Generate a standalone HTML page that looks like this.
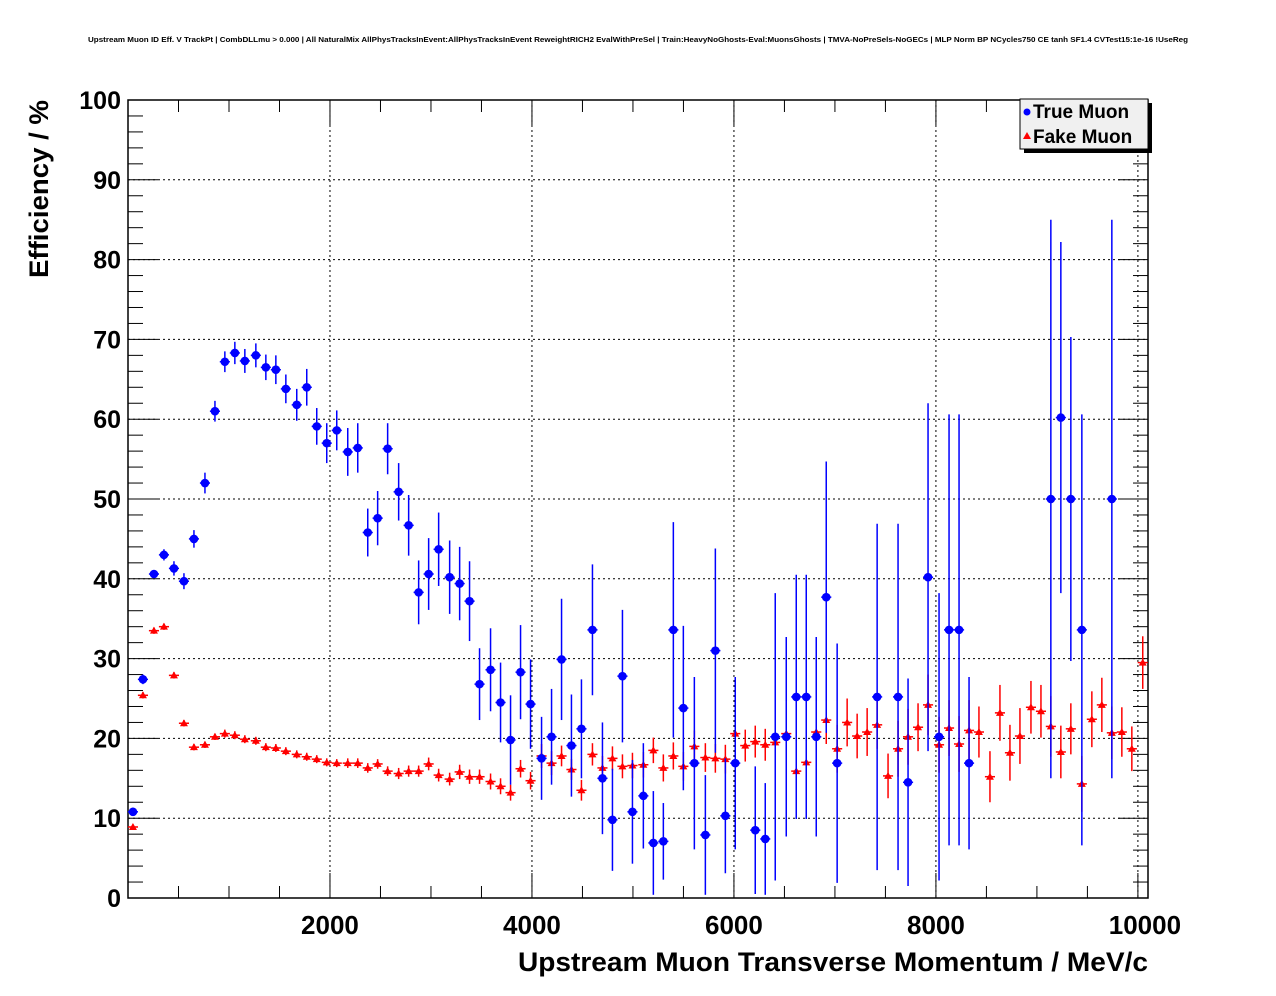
<!DOCTYPE html>
<html><head><meta charset="utf-8"><style>
html,body{margin:0;padding:0;background:#fff;}
svg{display:block;font-family:"Liberation Sans",sans-serif;}
</style></head><body>
<svg id="chart" width="1276" height="996" viewBox="0 0 1276 996" xmlns="http://www.w3.org/2000/svg">
<rect x="0" y="0" width="1276" height="996" fill="#fff"/>
<text x="88" y="42" font-size="7.5" font-weight="bold" textLength="1100" lengthAdjust="spacingAndGlyphs">Upstream Muon ID Eff. V TrackPt | CombDLLmu &gt; 0.000 | All NaturalMix AllPhysTracksInEvent:AllPhysTracksInEvent ReweightRICH2 EvalWithPreSel | Train:HeavyNoGhosts-Eval:MuonsGhosts | TMVA-NoPreSels-NoGECs | MLP Norm BP NCycles750 CE tanh SF1.4 CVTest15:1e-16 !UseReg</text>
<g id="grid"></g>
<g id="axes"></g>
<g id="series-fake"></g>
<g id="series-true"></g>
<text transform="translate(48,100) rotate(-90)" font-size="27" font-weight="bold" text-anchor="end" textLength="178" lengthAdjust="spacingAndGlyphs">Efficiency / %</text>
<text x="518" y="971" font-size="27" font-weight="bold" textLength="630" lengthAdjust="spacingAndGlyphs">Upstream Muon Transverse Momentum / MeV/c</text>
<g>
<rect x="1024" y="103" width="128" height="50" fill="#000"/>
<rect x="1020" y="99" width="128" height="50" fill="#f0f0f0" stroke="#000" stroke-width="1"/>
<g>
<circle cx="1027" cy="112" r="3.5" fill="#0000ff"/>
<text x="1033" y="118" font-size="19" font-weight="bold">True Muon</text>
</g>
<g>
<polygon points="1023,139 1031,139 1027,132" fill="#ff0000"/>
<text x="1033" y="143" font-size="19" font-weight="bold">Fake Muon</text>
</g>
</g>
</svg>
<script>
const xTicks = [2000, 4000, 6000, 8000, 10000];
const yTicks = [0, 10, 20, 30, 40, 50, 60, 70, 80, 90, 100];
const fakeX = [49,148,257,356,455,554,653,762,861,959,1058,1157,1266,1365,1464,1563,1671,1770,1869,1968,2067,2176,2275,2374,2472,2571,2680,2779,2878,2977,3076,3185,3284,3382,3481,3590,3689,3788,3887,3986,4095,4194,4293,4391,4490,4599,4698,4797,4896,4995,5103,5202,5301,5400,5499,5608,5717,5816,5915,6013,6112,6211,6310,6409,6518,6617,6716,6815,6914,7022,7121,7220,7319,7418,7526,7625,7724,7823,7922,8031,8130,8229,8328,8426,8535,8634,8733,8832,8941,9040,9138,9237,9336,9445,9544,9643,9742,9841,9940,10048];
const fakeY = [8.9,25.4,33.5,34.0,27.9,21.9,18.9,19.2,20.2,20.6,20.4,19.9,19.7,18.9,18.8,18.4,18.0,17.7,17.4,17.0,16.9,16.9,16.9,16.3,16.8,15.9,15.6,15.9,15.9,16.8,15.4,14.9,15.8,15.2,15.2,14.6,14.0,13.2,16.2,14.7,17.8,16.9,17.8,16.1,13.5,18.0,16.3,17.5,16.5,16.6,16.7,18.5,16.3,17.8,16.5,19.0,17.6,17.5,17.4,20.6,19.1,19.6,19.2,19.5,20.6,15.9,17.0,20.8,22.3,18.7,22.0,20.3,20.8,21.7,15.3,18.7,20.2,21.4,24.2,19.2,21.3,19.3,21.0,20.8,15.2,23.2,18.2,20.3,23.9,23.4,21.5,18.3,21.2,14.3,22.4,24.2,20.7,20.8,18.7,29.5];
const fakeErr = [.3,.4,.4,.4,.4,.4,.4,.4,.4,.5,.5,.5,.5,.5,.5,.5,.5,.5,.5,.5,.5,.6,.6,.6,.6,.6,.7,.7,.7,.8,.8,.8,.9,.9,.9,1.0,1.0,1.0,1.1,1.1,1.5,1.5,1.3,1.3,1.3,1.4,1.5,1.5,1.5,1.6,1.6,1.6,1.7,1.7,1.8,2.0,1.8,1.8,1.8,2.1,2.0,2.0,2.0,2.2,2.5,2.3,2.3,2.5,3,3,3,2.8,3,3,2.8,3.5,3.5,3,3.8,3.5,3.5,3.5,3.8,3.2,3.2,3.5,3.5,3.5,3.3,3.3,3.8,3.3,3.2,3.5,3.5,3.4,3.3,3.1,2.8,3.3];
const trueX = [49,148,257,356,455,554,653,762,861,959,1058,1157,1266,1365,1464,1563,1671,1770,1869,1968,2067,2176,2275,2374,2472,2571,2680,2779,2878,2977,3076,3185,3284,3382,3481,3590,3689,3788,3887,3986,4095,4194,4293,4391,4490,4599,4698,4797,4896,4995,5103,5202,5301,5400,5499,5608,5717,5816,5915,6013,6211,6310,6409,6518,6617,6716,6815,6914,7022,7418,7625,7724,7922,8031,8130,8229,8328,9138,9237,9336,9445,9742];
const trueY = [10.8,27.4,40.6,43.0,41.3,39.7,45.0,52.0,61.0,67.2,68.3,67.3,68.0,66.5,66.2,63.8,61.8,64.0,59.1,57.0,58.6,55.9,56.4,45.8,47.6,56.3,50.9,46.7,38.3,40.6,43.7,40.2,39.4,37.2,26.8,28.6,24.5,19.8,28.3,24.3,17.5,20.2,29.9,19.1,21.2,33.6,15.0,9.8,27.8,10.8,12.8,6.9,7.1,33.6,23.8,16.9,7.9,31.0,10.3,16.9,8.5,7.4,20.2,20.2,25.2,25.2,20.2,37.7,16.9,25.2,25.2,14.5,40.2,20.2,33.6,33.6,16.9,50.0,60.2,50.0,33.6,50.0];
const trueErr = [0.5,0.6,0.5,0.7,0.9,1.0,1.1,1.3,1.3,1.3,1.4,1.5,1.5,1.6,1.8,1.8,2.0,2.3,2.3,2.5,2.5,3.0,3.1,3.0,3.4,3.2,3.6,3.8,4.0,4.5,4.6,4.6,4.6,5.0,4.5,5.2,5.0,5.6,5.9,5.6,5.2,6.0,7.6,6.4,6.2,8.2,7.0,6.4,8.3,6.5,6.6,6.5,4.8,13.5,10.3,10.8,7.5,12.8,7.2,10.8,8.0,7.0,18.0,12.5,15.3,15.3,12.5,17.0,15.0,21.7,21.7,13.0,21.8,18.0,27.0,27.0,10.8,35.0,22.0,20.3,27.0,35.0];

const NS = "http://www.w3.org/2000/svg";
const L = 128, R = 1148, T = 100, B = 898;
const XMAX = 10100;
function sx(v){ return L + (v / XMAX) * (R - L); }
function sy(v){ return B - (v / 100) * (B - T); }
function mk(tag, attrs, parent){
  const e = document.createElementNS(NS, tag);
  for (const k in attrs) e.setAttribute(k, attrs[k]);
  parent.appendChild(e);
  return e;
}
const grid = document.getElementById("grid");
const axes = document.getElementById("axes");

yTicks.forEach(v => {
  if (v === 0 || v === 100) return;
  const l = mk("line", {x1:L, x2:R, y1:sy(v), y2:sy(v), stroke:"#000", "stroke-width":1, "stroke-dasharray":"2,3"}, grid);
  
  
});
xTicks.forEach(v => {
  const l = mk("line", {x1:sx(v), x2:sx(v), y1:T, y2:B, stroke:"#000", "stroke-width":1, "stroke-dasharray":"2,3"}, grid);
  
  
});

const frame = mk("rect", {x:L, y:T, width:R-L, height:B-T, fill:"none", stroke:"#000", "stroke-width":1.5}, axes);



for (let v = 0; v <= 100; v += 2) {
  const len = (v % 10 === 0) ? 30 : 15;
  mk("line", {x1:L, x2:L+len, y1:sy(v), y2:sy(v), stroke:"#000", "stroke-width":1}, axes);
  mk("line", {x1:R, x2:R-len, y1:sy(v), y2:sy(v), stroke:"#000", "stroke-width":1}, axes);
}
yTicks.forEach(v => {
  const t = mk("text", {x:L-7, y:sy(v)+9, "font-size":25, "font-weight":"bold", "text-anchor":"end"}, axes);
  t.textContent = v;
  
  
});
for (let v = 500; v <= 10000; v += 500) {
  const len = (v % 2000 === 0) ? 25 : 12;
  mk("line", {x1:sx(v), x2:sx(v), y1:B, y2:B-len, stroke:"#000", "stroke-width":1}, axes);
  mk("line", {x1:sx(v), x2:sx(v), y1:T, y2:T+len, stroke:"#000", "stroke-width":1}, axes);
}
xTicks.forEach(v => {
  const t = mk("text", {x:sx(v)+(v===10000?7:0), y:934, "font-size":26, "font-weight":"bold", "text-anchor":"middle"}, axes);
  t.textContent = v;
  
  
});

function errBar(g, x, y, e, color){
  const top = Math.min(100, y + e), bot = Math.max(0, y - e);
  mk("line", {x1:sx(x), x2:sx(x), y1:sy(top), y2:sy(bot), stroke:color, "stroke-width":1.5}, g);
  mk("line", {x1:sx(x-50), x2:sx(x+50), y1:sy(y), y2:sy(y), stroke:color, "stroke-width":1.5}, g);
}
const gf = document.getElementById("series-fake");
fakeX.forEach((x, i) => {
  const g = mk("g", {}, gf);
  
  
  errBar(g, x, fakeY[i], fakeErr[i], "#ff0000");
  const cx = sx(x), cy = sy(fakeY[i]);
  mk("polygon", {points:`${cx-4},${cy+3} ${cx+4},${cy+3} ${cx},${cy-4}`, fill:"#ff0000"}, g);
});
const gt = document.getElementById("series-true");
trueX.forEach((x, i) => {
  const g = mk("g", {}, gt);
  
  
  errBar(g, x, trueY[i], trueErr[i], "#0000ff");
  mk("circle", {cx:sx(x), cy:sy(trueY[i]), r:4.3, fill:"#0000ff"}, g);
});
</script>
</body></html>
